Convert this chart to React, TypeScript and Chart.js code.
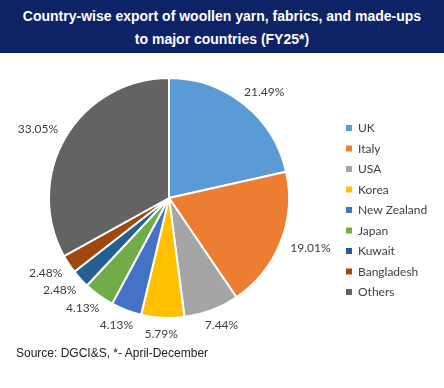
import React, { useEffect, useRef } from "react";
import { Chart, registerables } from "chart.js";

Chart.register(...registerables);

const categories = ["UK", "Italy", "USA", "Korea", "New Zealand", "Japan", "Kuwait", "Bangladesh", "Others"];
const shares = [21.49, 19.01, 7.44, 5.79, 4.13, 4.13, 2.48, 2.48, 33.05];
const colors = ["#5B9BD5", "#ED7D31", "#A5A5A5", "#FFC000", "#4472C4", "#70AD47", "#255E91", "#9E480E", "#636363"];
const titleLines = ["Country-wise export of woollen yarn, fabrics, and made-ups", "to major countries (FY25*)"];
const sourceText = "Source: DGCI&S, *- April-December";

const labelFont = "12px Lato";

const outsideLabels = {
  id: "outsideLabels",
  afterDatasetsDraw(chart: any) {
    const ctx = chart.ctx;
    const meta = chart.getDatasetMeta(0);
    ctx.save();
    ctx.font = labelFont;
    ctx.fillStyle = "#404040";
    ctx.textAlign = "center";
    ctx.textBaseline = "middle";
    meta.data.forEach((arc: any, i: number) => {
      const p = arc.getProps(["x", "y", "startAngle", "endAngle", "outerRadius"], true);
      const mid = (p.startAngle + p.endAngle) / 2;
      const txt = shares[i].toFixed(2) + "%";
      const w = ctx.measureText(txt).width;
      const c = Math.cos(mid);
      const s = Math.sin(mid);
      const a = p.outerRadius + 7;
      const x = p.x + c * a + c * (w / 2) * 1.25;
      const y = p.y + s * a + s * 9;
      ctx.fillText(txt, x, y);
    });
    ctx.restore();
  },
};

const sideLegend = {
  id: "sideLegend",
  afterDraw(chart: any) {
    const ctx = chart.ctx;
    ctx.save();
    ctx.font = labelFont;
    ctx.textAlign = "left";
    ctx.textBaseline = "middle";
    chart.data.labels.forEach((lab: string, i: number) => {
      const y = 128 + i * 20.5;
      ctx.fillStyle = chart.data.datasets[0].backgroundColor[i];
      ctx.fillRect(346, y - 3, 6, 6);
      ctx.fillStyle = "#404040";
      ctx.fillText(lab, 358, y + 0.5);
    });
    ctx.restore();
  },
};

export default function App() {
  const ref = useRef<HTMLCanvasElement | null>(null);
  useEffect(() => {
    if (!ref.current) return;
    const chart = new Chart(ref.current, {
      type: "pie",
      data: {
        labels: categories,
        datasets: [
          {
            data: shares,
            backgroundColor: colors,
            borderColor: "#ffffff",
            borderWidth: 2,
          },
        ],
      },
      options: {
        responsive: false,
        animation: false,
        radius: 120,
        layout: { padding: { left: 0, right: 106, top: 8, bottom: 0 } },
        plugins: {
          legend: { display: false },
          tooltip: { enabled: false },
        },
      } as any,
      plugins: [outsideLabels, sideLegend],
    });
    return () => chart.destroy();
  }, []);

  return (
    <div style={{ position: "fixed", left: 0, top: 0, width: 444, height: 388, background: "#ffffff", overflow: "hidden" }}>
      <canvas ref={ref} width={444} height={388} style={{ position: "absolute", left: 0, top: 0, width: 444, height: 388 }} />
      <div
        style={{
          position: "absolute",
          left: 0,
          top: 0,
          width: 444,
          height: 53,
          background: "#0D2366",
          color: "#ffffff",
          fontFamily: "'Liberation Sans', Arial, sans-serif",
          fontWeight: "bold",
          fontSize: 14,
          lineHeight: "23px",
          textAlign: "center",
          paddingTop: 5,
          boxSizing: "border-box",
        }}
      >
        {titleLines[0]}
        <br />
        {titleLines[1]}
      </div>
      <div
        style={{
          position: "absolute",
          left: 16,
          top: 345,
          fontFamily: "'Liberation Sans', Arial, sans-serif",
          fontSize: 12,
          lineHeight: "16px",
          color: "#222222",
        }}
      >
        {sourceText}
      </div>
    </div>
  );
}
